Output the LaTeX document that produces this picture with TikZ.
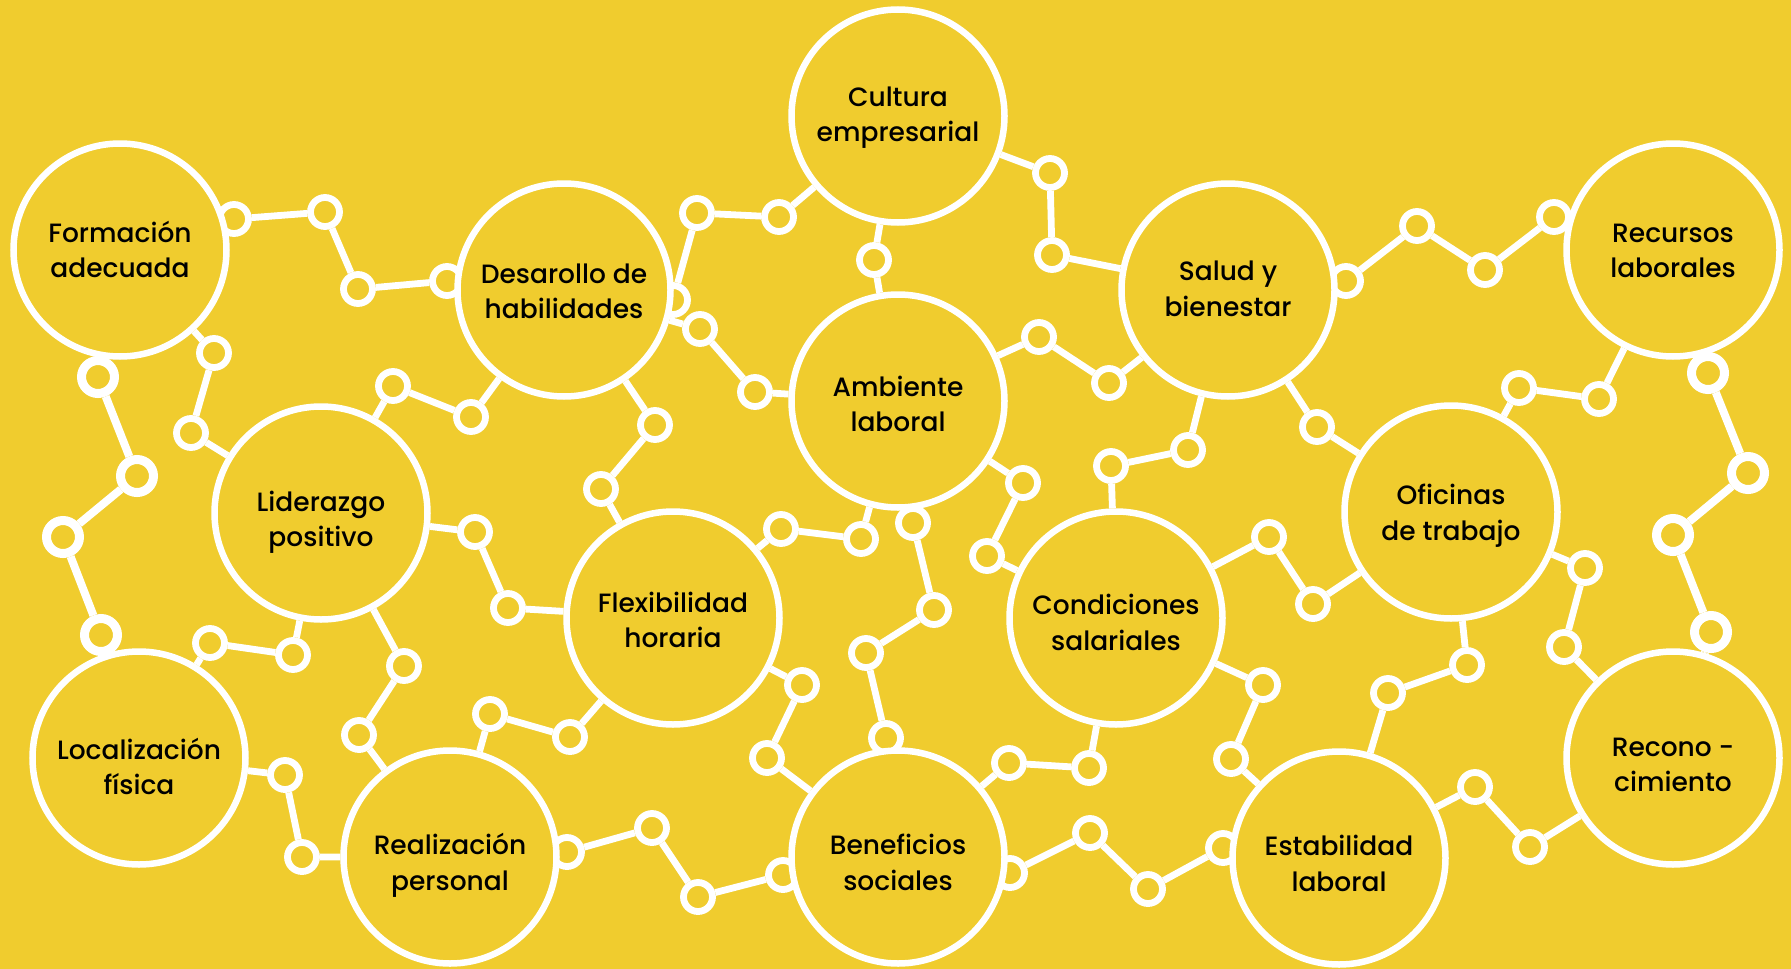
\documentclass[tikz,border=0pt]{standalone}
\usepackage{fontspec}
\setmainfont{Poppins}[UprightFont=* Medium]
\definecolor{bgy}{RGB}{240,204,46}
\pgfdeclarelayer{back}
\pgfdeclarelayer{lines}
\pgfdeclarelayer{dots}
\pgfsetlayers{back,lines,dots,main}
% two-line label whose first baseline sits #1 pt below the node centre
\newcommand\twoline[3]{\rule{0pt}{\dimexpr47.5pt+#1pt\relax}#2\\#3\rule[\dimexpr-12.5pt+#1pt\relax]{0pt}{\dimexpr12.5pt-#1pt\relax}}
\tikzset{
  big/.style={circle, draw=white, line width=6.5pt, fill=bgy, minimum size=213pt, inner sep=0pt, align=center, text=black, font=\fontsize{26.5}{35.5}\selectfont},
  dot/.style={circle, draw=white, line width=6.8pt, fill=bgy, minimum size=29pt, inner sep=0pt},
  bigdot/.style={circle, draw=white, line width=9pt, fill=bgy, minimum size=33pt, inner sep=0pt},
  link/.style={draw=white, line width=6.8pt},
  biglink/.style={draw=white, line width=8pt}
}
\begin{document}
\begin{tikzpicture}[x=1pt,y=-1pt]
\begin{pgfonlayer}{back}
\fill[bgy] (0,0) rectangle (1791,969);
\end{pgfonlayer}
\useasboundingbox (0,0) rectangle (1791,969);
% big circles
\node[big] (form) at (120,250) {\twoline{-7.3}{Formación}{adecuada}};
\node[big] (desa) at (564,290) {\twoline{-6.7}{Desarollo de}{habilidades}};
\node[big] (cult) at (898,116) {\twoline{-9.3}{Cultura}{empresarial}};
\node[big] (amb) at (898,401) {\twoline{-4.3}{Ambiente}{laboral}};
\node[big] (salud) at (1228,290) {\twoline{-9}{Salud y}{bienestar}};
\node[big] (recu) at (1673,250) {\twoline{-7.3}{Recursos}{laborales}};
\node[big] (lid) at (321,513) {\twoline{-1.3}{Liderazgo}{positivo}};
\node[big] (flex) at (673,618) {\twoline{-5.7}{Flexibilidad}{horaria}};
\node[big] (cond) at (1116,618) {\twoline{-3}{Condiciones}{salariales}};
\node[big] (ofi) at (1451,512) {\twoline{-7}{Oficinas}{de trabajo}};
\node[big] (loc) at (139,758) {\twoline{1.3}{Localización}{física}};
\node[big] (real) at (450,857) {\twoline{-2}{Realización}{personal}};
\node[big] (bene) at (898,857) {\twoline{-2}{Beneficios}{sociales}};
\node[big] (esta) at (1339,858) {\twoline{-2}{Estabilidad}{laboral}};
\node[big] (reco) at (1673,758) {\twoline{-1.3}{Recono -}{cimiento}};
\begin{pgfonlayer}{dots}
\node[dot] (c1a) at (234,219) {};
\node[dot] (c1b) at (325,212) {};
\node[dot] (c1c) at (358,289) {};
\node[dot] (c1d) at (447,281) {};
\node[dot] (c2a) at (214,353) {};
\node[dot] (c2b) at (191,433) {};
\node[bigdot] (c3a) at (98,377) {};
\node[bigdot] (c3b) at (137,476) {};
\node[bigdot] (c3c) at (63,537) {};
\node[bigdot] (c3d) at (101,635) {};
\node[dot] (c4a) at (393,386) {};
\node[dot] (c4b) at (471,417) {};
\node[dot] (c5a) at (673,300) {};
\node[dot] (c5b) at (697,213) {};
\node[dot] (c5c) at (779,217) {};
\node[dot] (c6a) at (700,329) {};
\node[dot] (c6b) at (755,392) {};
\node[dot] (c7a) at (655,425) {};
\node[dot] (c7b) at (601,489) {};
\node[dot] (c8a) at (874,260) {};
\node[dot] (c9a) at (1050,173) {};
\node[dot] (c9b) at (1052,255) {};
\node[dot] (c10a) at (1039,337) {};
\node[dot] (c10b) at (1109,383) {};
\node[dot] (c11a) at (1023,483) {};
\node[dot] (c11b) at (987,556) {};
\node[dot] (c12a) at (1346,281) {};
\node[dot] (c12b) at (1417,226) {};
\node[dot] (c12c) at (1485,270) {};
\node[dot] (c12d) at (1554,217) {};
\node[dot] (c13a) at (1188,450) {};
\node[dot] (c13b) at (1111,466) {};
\node[dot] (c14a) at (1317,427) {};
\node[dot] (c15a) at (1599,399) {};
\node[dot] (c15b) at (1519,388) {};
\node[bigdot] (c16a) at (1708,373) {};
\node[bigdot] (c16b) at (1748,473) {};
\node[bigdot] (c16c) at (1673,535) {};
\node[bigdot] (c16d) at (1711,632) {};
\node[dot] (c17a) at (293,655) {};
\node[dot] (c17b) at (210,643) {};
\node[dot] (c18a) at (404,666) {};
\node[dot] (c18b) at (359,735) {};
\node[dot] (c19a) at (475,532) {};
\node[dot] (c19b) at (508,608) {};
\node[dot] (c20a) at (285,775) {};
\node[dot] (c20b) at (302,857) {};
\node[dot] (c21a) at (490,714) {};
\node[dot] (c21b) at (570,737) {};
\node[dot] (c22a) at (567,852) {};
\node[dot] (c22b) at (652,828) {};
\node[dot] (c22c) at (698,897) {};
\node[dot] (c22d) at (783,875) {};
\node[dot] (c23a) at (781,529) {};
\node[dot] (c23b) at (861,539) {};
\node[dot] (c24a) at (913,523) {};
\node[dot] (c24b) at (934,610) {};
\node[dot] (c24c) at (866,653) {};
\node[dot] (c24d) at (886,738) {};
\node[dot] (c25a) at (802,685) {};
\node[dot] (c25b) at (767,758) {};
\node[dot] (c26a) at (1089,768) {};
\node[dot] (c26b) at (1009,763) {};
\node[dot] (c27a) at (1010,873) {};
\node[dot] (c27b) at (1090,833) {};
\node[dot] (c27c) at (1148,889) {};
\node[dot] (c27d) at (1223,848) {};
\node[dot] (c28a) at (1269,537) {};
\node[dot] (c28b) at (1313,604) {};
\node[dot] (c29a) at (1263,685) {};
\node[dot] (c29b) at (1231,759) {};
\node[dot] (c30a) at (1467,665) {};
\node[dot] (c30b) at (1388,693) {};
\node[dot] (c31a) at (1585,568) {};
\node[dot] (c31b) at (1564,647) {};
\node[dot] (c32a) at (1475,787) {};
\node[dot] (c32b) at (1530,847) {};
\end{pgfonlayer}
\begin{pgfonlayer}{lines}
\draw[link] (form) -- (c1a) -- (c1b) -- (c1c) -- (c1d) -- (desa);
\draw[link] (form) -- (c2a) -- (c2b) -- (lid);
\draw[biglink] (form) -- (c3a) -- (c3b) -- (c3c) -- (c3d) -- (loc);
\draw[link] (lid) -- (c4a) -- (c4b) -- (desa);
\draw[link] (desa) -- (c5a) -- (c5b) -- (c5c) -- (cult);
\draw[link] (desa) -- (c6a) -- (c6b) -- (amb);
\draw[link] (desa) -- (c7a) -- (c7b) -- (flex);
\draw[link] (cult) -- (c8a) -- (amb);
\draw[link] (cult) -- (c9a) -- (c9b) -- (salud);
\draw[link] (amb) -- (c10a) -- (c10b) -- (salud);
\draw[link] (amb) -- (c11a) -- (c11b) -- (cond);
\draw[link] (salud) -- (c12a) -- (c12b) -- (c12c) -- (c12d) -- (recu);
\draw[link] (salud) -- (c13a) -- (c13b) -- (cond);
\draw[link] (salud) -- (c14a) -- (ofi);
\draw[link] (recu) -- (c15a) -- (c15b) -- (ofi);
\draw[biglink] (recu) -- (c16a) -- (c16b) -- (c16c) -- (c16d) -- (reco);
\draw[link] (lid) -- (c17a) -- (c17b) -- (loc);
\draw[link] (lid) -- (c18a) -- (c18b) -- (real);
\draw[link] (lid) -- (c19a) -- (c19b) -- (flex);
\draw[link] (loc) -- (c20a) -- (c20b) -- (real);
\draw[link] (real) -- (c21a) -- (c21b) -- (flex);
\draw[link] (real) -- (c22a) -- (c22b) -- (c22c) -- (c22d) -- (bene);
\draw[link] (flex) -- (c23a) -- (c23b) -- (amb);
\draw[link] (amb) -- (c24a) -- (c24b) -- (c24c) -- (c24d) -- (bene);
\draw[link] (flex) -- (c25a) -- (c25b) -- (bene);
\draw[link] (cond) -- (c26a) -- (c26b) -- (bene);
\draw[link] (bene) -- (c27a) -- (c27b) -- (c27c) -- (c27d) -- (esta);
\draw[link] (cond) -- (c28a) -- (c28b) -- (ofi);
\draw[link] (cond) -- (c29a) -- (c29b) -- (esta);
\draw[link] (ofi) -- (c30a) -- (c30b) -- (esta);
\draw[link] (ofi) -- (c31a) -- (c31b) -- (reco);
\draw[link] (esta) -- (c32a) -- (c32b) -- (reco);
\end{pgfonlayer}
\end{tikzpicture}
\end{document}
